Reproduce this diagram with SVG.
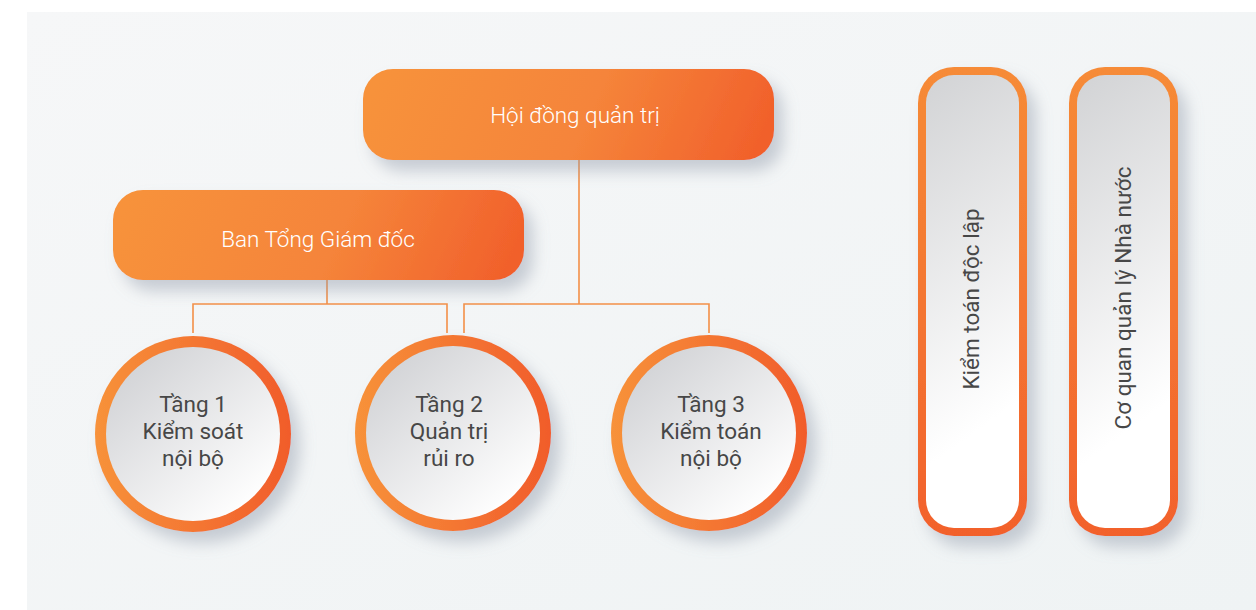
<svg xmlns="http://www.w3.org/2000/svg" width="1256" height="610" viewBox="0 0 1256 610">
<defs>
<linearGradient id="gBox" x1="0" y1="0.45" x2="1" y2="0.55">
<stop offset="0" stop-color="#f7923a"/>
<stop offset="0.55" stop-color="#f5843a"/>
<stop offset="1" stop-color="#f1602b"/>
</linearGradient>
<linearGradient id="gRing" x1="0" y1="0" x2="1" y2="0">
<stop offset="0" stop-color="#f7923a"/>
<stop offset="1" stop-color="#f15c2b"/>
</linearGradient>
<linearGradient id="gInner" x1="0.15" y1="0.1" x2="0.85" y2="0.9">
<stop offset="0" stop-color="#d3d4d7"/>
<stop offset="1" stop-color="#ffffff"/>
</linearGradient>
<linearGradient id="gPillRing" x1="0" y1="0" x2="0" y2="1">
<stop offset="0" stop-color="#f68b37"/>
<stop offset="1" stop-color="#f2612c"/>
</linearGradient>
<linearGradient id="gPillInner" x1="0" y1="0" x2="0.15" y2="1">
<stop offset="0" stop-color="#d2d3d5"/>
<stop offset="0.85" stop-color="#ffffff"/>
<stop offset="1" stop-color="#ffffff"/>
</linearGradient>
<linearGradient id="gBg" x1="0" y1="0" x2="1" y2="1">
<stop offset="0" stop-color="#f6f7f8"/>
<stop offset="1" stop-color="#eff3f4"/>
</linearGradient>
<filter id="sh" x="-20%" y="-20%" width="150%" height="150%">
<feDropShadow dx="9" dy="11" stdDeviation="8" flood-color="#8e98a8" flood-opacity="0.45"/>
</filter>
</defs>
<style>
.box{fill:url(#gBox);filter:url(#sh)}
.ring{fill:url(#gRing);filter:url(#sh)}
.inner{fill:url(#gInner)}
.pring{fill:url(#gPillRing);filter:url(#sh)}
.pinner{fill:url(#gPillInner)}
.wt{font-family:Roboto,"Liberation Sans",sans-serif;font-size:22.5px;font-weight:300;fill:#ffffff;text-anchor:middle}
.dt{font-family:Roboto,"Liberation Sans",sans-serif;font-size:22.5px;fill:#474747;text-anchor:middle}
.conn{fill:none;stroke:#f39048;stroke-width:1.6}
</style>
<rect x="0" y="0" width="1256" height="610" fill="#ffffff"/>
<rect x="27" y="12" width="1229" height="598" fill="url(#gBg)"/>

<g id="connectors">
<path class="conn" d="M579 160 V304 M464 333 V304 H709 V333"/>
<path class="conn" d="M327 280 V304 M193 333 V304 H447 V333"/>
</g>

<g id="hoi-dong-quan-tri">
<rect class="box" x="363" y="69" width="411" height="91" rx="30"/>
<text class="wt" x="575" y="123">Hội đồng quản trị</text>
</g>

<g id="ban-tong-giam-doc">
<rect class="box" x="113" y="190" width="411" height="90" rx="30"/>
<text class="wt" x="318" y="247">Ban Tổng Giám đốc</text>
</g>

<g id="tang-1">
<circle class="ring" cx="193" cy="434" r="98"/>
<circle class="inner" cx="193" cy="434" r="87"/>
<text class="dt" x="193" y="412">Tầng 1</text>
<text class="dt" x="193" y="439">Kiểm soát</text>
<text class="dt" x="193" y="466">nội bộ</text>
</g>

<g id="tang-2">
<circle class="ring" cx="453" cy="433" r="98"/>
<circle class="inner" cx="453" cy="433" r="87"/>
<text class="dt" x="449" y="412">Tầng 2</text>
<text class="dt" x="449" y="439">Quản trị</text>
<text class="dt" x="449" y="466">rủi ro</text>
</g>

<g id="tang-3">
<circle class="ring" cx="709" cy="433" r="98"/>
<circle class="inner" cx="709" cy="433" r="87"/>
<text class="dt" x="711" y="412">Tầng 3</text>
<text class="dt" x="711" y="439">Kiểm toán</text>
<text class="dt" x="711" y="466">nội bộ</text>
</g>

<g id="kiem-toan-doc-lap">
<rect class="pring" x="918" y="67" width="109" height="469" rx="36"/>
<rect class="pinner" x="926" y="75" width="93" height="453" rx="28"/>
<text class="dt" transform="translate(979 299) rotate(-90)">Kiểm toán độc lập</text>
</g>

<g id="co-quan-quan-ly-nha-nuoc">
<rect class="pring" x="1069" y="67" width="109" height="469" rx="36"/>
<rect class="pinner" x="1077" y="75" width="93" height="453" rx="28"/>
<text class="dt" transform="translate(1131 298) rotate(-90)">Cơ quan quản lý Nhà nước</text>
</g>
</svg>
